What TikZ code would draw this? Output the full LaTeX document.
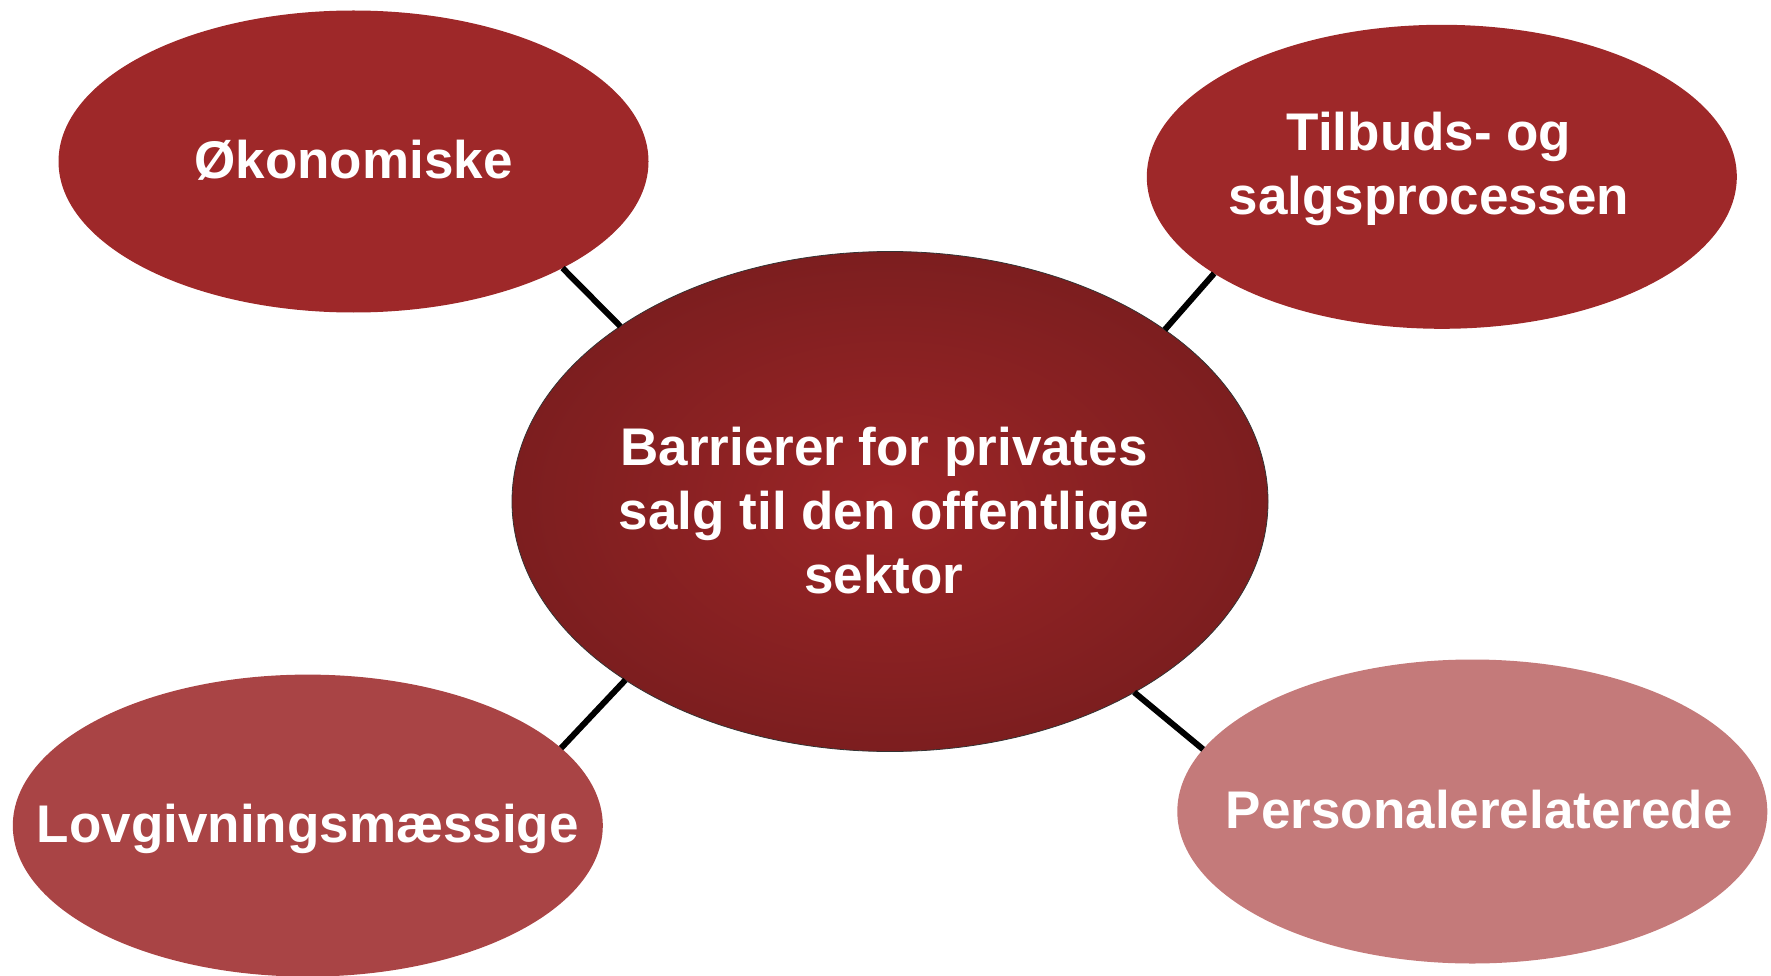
\documentclass[tikz,border=0pt]{standalone}
\usepackage{fontspec}
\setmainfont{Liberation Sans}
\usetikzlibrary{shapes.geometric}
\definecolor{redA}{RGB}{158,40,41}
\definecolor{redB}{RGB}{169,68,69}
\definecolor{redC}{RGB}{196,122,122}
\definecolor{redIn}{RGB}{156,37,39}
\definecolor{redOut}{RGB}{124,30,31}
\tikzset{
  ell/.style={ellipse, inner sep=0pt, outer sep=0pt, minimum width=590pt, minimum height=302pt},
  hub/.style={ell, minimum width=756pt, minimum height=500pt, draw=black!80, line width=0.8pt,
    inner color=redIn, outer color=redOut},
  txt/.style={inner sep=0pt, text=white, font=\fontsize{53}{64}\selectfont\bfseries},
  link/.style={line width=6pt, black}
}
\newcommand{\lbl}[1]{\begin{tabular}{@{}c@{}}#1\end{tabular}}
\begin{document}
\begin{tikzpicture}[x=1pt,y=-1pt]
\useasboundingbox (0,0) rectangle (1771,976);
\node[ell, fill=redA] (a) at (353.5,161.5) {};
\node[ell, fill=redA, minimum height=304pt] (b) at (1441.8,176.8) {};
\node[ell, fill=redB] (d) at (307.8,825.6) {};
\node[ell, fill=redC, minimum height=304pt] (e) at (1472.3,811.5) {};
\node[hub] (c) at (890,501.5) {};
\node[txt] (at) at (353.5,166) {\lbl{Økonomiske}};
\node[txt] (bt) at (1429,170) {\lbl{Tilbuds- og\\salgsprocessen}};
\node[txt] (dt) at (307.8,830) {\lbl{Lovgivningsmæssige}};
\node[txt] (et) at (1479.3,816) {\lbl{Personalerelaterede}};
\node[txt] (ct) at (884,516.5) {\lbl{Barrierer for privates\\salg til den offentlige\\sektor}};
\draw[link] (a.-27.6) -- (c.147.6);
\draw[link] (b.203.3) -- (c.32.5);
\draw[link] (d.17) -- (c.214.3);
\draw[link] (e.167.1) -- (c.-38.1);
\end{tikzpicture}
\end{document}
